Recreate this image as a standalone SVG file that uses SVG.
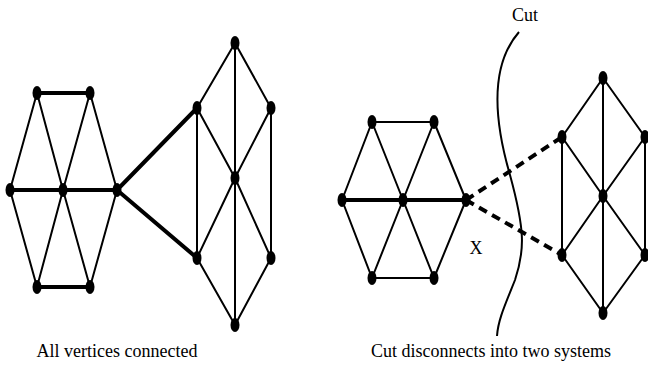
<svg xmlns="http://www.w3.org/2000/svg" width="648" height="382" viewBox="0 0 648 382">
<style>
.e{stroke:#000;stroke-width:2;fill:none}
.t{stroke:#000;stroke-width:4;fill:none}
.d{stroke:#000;stroke-width:4;fill:none;stroke-dasharray:9,6}
.n{fill:#000}
text{font-family:"Liberation Serif",serif;font-size:18px;fill:#000}
</style>
<rect width="648" height="382" fill="#fff"/>
<g id="connectors">
<path class="t" d="M37,93 L90,93 M10,190 L117,190 M37,287 L90,287"/>
<path class="e" d="M37,93 L10,190 M37,93 L63,190 M90,93 L63,190 M90,93 L117,190 M37,287 L10,190 M37,287 L63,190 M90,287 L63,190 M90,287 L117,190"/>
<path class="t" d="M117,190 L197,108 M117,190 L197,258"/>
<path class="e" d="M235,43 L197,108 M235,43 L271,108 M235,43 L235,325 M197,108 L197,258 M271,108 L271,258 M197,108 L235,178 M271,108 L235,178 M197,258 L235,178 M271,258 L235,178 M197,258 L235,325 M271,258 L235,325"/>
<path class="t" d="M342,200 L466,200"/>
<path class="e" d="M372,122 L434,122 M372,278 L434,278 M372,122 L342,200 M372,122 L403,200 M434,122 L403,200 M434,122 L466,200 M372,278 L342,200 M372,278 L403,200 M434,278 L403,200 M434,278 L466,200"/>
<path class="d" d="M466,200 L562,137 M466,200 L562,255"/>
<path class="e" d="M603,78 L562,137 M603,78 L645,137 M603,78 L603,313 M562,137 L562,255 M645,137 L645,255 M562,137 L603,196 M645,137 L603,196 M562,255 L603,196 M645,255 L603,196 M562,255 L603,313 M645,255 L603,313"/>
<path class="e" d="M519,32 C490,65 494,120 510,175 C525,230 525,250 515,280 C505,305 498,320 497,336"/>
</g>
<g id="nodes">
<g id="L1"><ellipse class="n" cx="37" cy="93" rx="4.5" ry="7"/></g>
<g id="L2"><ellipse class="n" cx="90" cy="93" rx="4.5" ry="7"/></g>
<g id="L3"><ellipse class="n" cx="10" cy="190" rx="4.5" ry="7"/></g>
<g id="L4"><ellipse class="n" cx="63" cy="190" rx="4.5" ry="7"/></g>
<g id="L5"><ellipse class="n" cx="117" cy="190" rx="4.5" ry="7"/></g>
<g id="L6"><ellipse class="n" cx="37" cy="287" rx="4.5" ry="7"/></g>
<g id="L7"><ellipse class="n" cx="90" cy="287" rx="4.5" ry="7"/></g>
<g id="L8"><ellipse class="n" cx="235" cy="43" rx="4.5" ry="7"/></g>
<g id="L9"><ellipse class="n" cx="197" cy="108" rx="4.5" ry="7"/></g>
<g id="L10"><ellipse class="n" cx="271" cy="108" rx="4.5" ry="7"/></g>
<g id="L11"><ellipse class="n" cx="235" cy="178" rx="4.5" ry="7"/></g>
<g id="L12"><ellipse class="n" cx="197" cy="258" rx="4.5" ry="7"/></g>
<g id="L13"><ellipse class="n" cx="271" cy="258" rx="4.5" ry="7"/></g>
<g id="L14"><ellipse class="n" cx="235" cy="325" rx="4.5" ry="7"/></g>
<g id="R1"><ellipse class="n" cx="372" cy="122" rx="4.5" ry="7"/></g>
<g id="R2"><ellipse class="n" cx="434" cy="122" rx="4.5" ry="7"/></g>
<g id="R3"><ellipse class="n" cx="342" cy="200" rx="4.5" ry="7"/></g>
<g id="R4"><ellipse class="n" cx="403" cy="200" rx="4.5" ry="7"/></g>
<g id="R5"><ellipse class="n" cx="466" cy="200" rx="4.5" ry="7"/></g>
<g id="R6"><ellipse class="n" cx="372" cy="278" rx="4.5" ry="7"/></g>
<g id="R7"><ellipse class="n" cx="434" cy="278" rx="4.5" ry="7"/></g>
<g id="R8"><ellipse class="n" cx="603" cy="78" rx="4.5" ry="7"/></g>
<g id="R9"><ellipse class="n" cx="562" cy="137" rx="4.5" ry="7"/></g>
<g id="R10"><ellipse class="n" cx="645" cy="137" rx="4.5" ry="7"/></g>
<g id="R11"><ellipse class="n" cx="603" cy="196" rx="4.5" ry="7"/></g>
<g id="R12"><ellipse class="n" cx="562" cy="255" rx="4.5" ry="7"/></g>
<g id="R13"><ellipse class="n" cx="645" cy="255" rx="4.5" ry="7"/></g>
<g id="R14"><ellipse class="n" cx="603" cy="313" rx="4.5" ry="7"/></g>
</g>
<g id="labels">
<text x="525" y="21" text-anchor="middle">Cut</text>
<text x="476" y="254" text-anchor="middle">X</text>
<text x="117" y="357" text-anchor="middle">All vertices connected</text>
<text x="491" y="357" text-anchor="middle">Cut disconnects into two systems</text>
</g>
</svg>
